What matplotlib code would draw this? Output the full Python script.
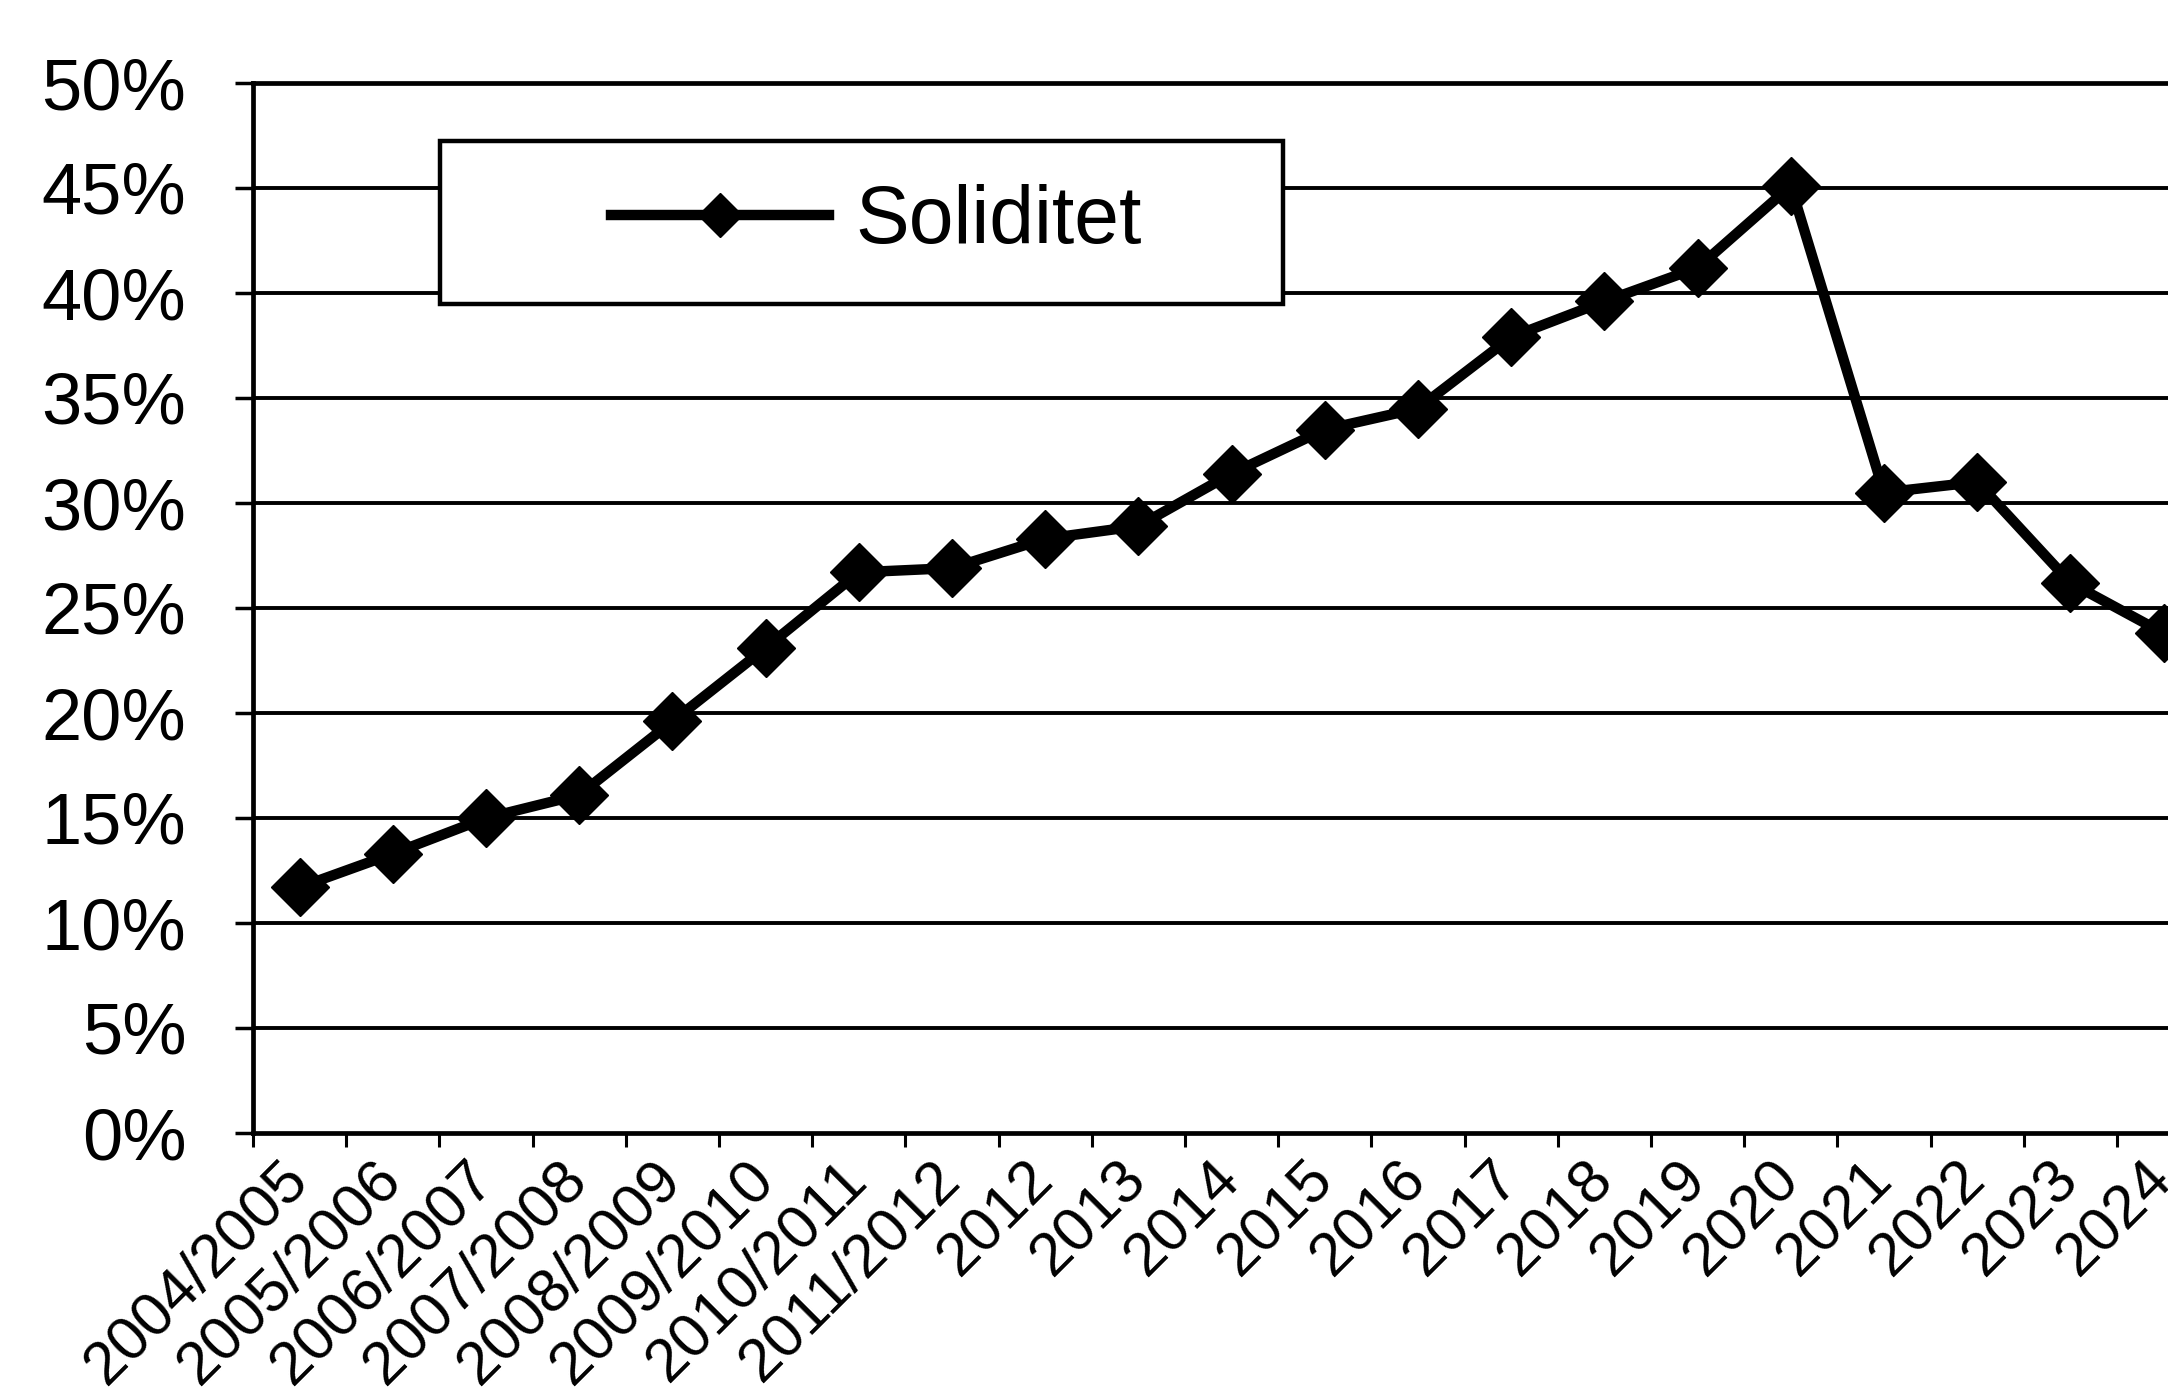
import matplotlib
matplotlib.use("Agg")
import matplotlib.pyplot as plt
from matplotlib.patches import Rectangle
from matplotlib.ticker import FuncFormatter

# ---- data ----
categories = ["2004/2005", "2005/2006", "2006/2007", "2007/2008", "2008/2009",
              "2009/2010", "2010/2011", "2011/2012", "2012", "2013", "2014",
              "2015", "2016", "2017", "2018", "2019", "2020", "2021", "2022",
              "2023", "2024"]
soliditet = [11.7, 13.3, 15.0, 16.1, 19.6, 23.1, 26.7, 26.9, 28.3, 28.9, 31.4,
             33.5, 34.5, 37.9, 39.6, 41.2, 45.1, 30.5, 31.0, 26.2, 23.8]
y_ticks = [0, 5, 10, 15, 20, 25, 30, 35, 40, 45, 50]
series_name = "Soliditet"

plt.rcParams['font.family'] = ['Liberation Sans', 'DejaVu Sans']

W, H = 2168, 1395
fig = plt.figure(figsize=(W / 100, H / 100), dpi=100)
fig.patch.set_facecolor("white")

left_px, bottom_px, top_px = 253, 1133, 83
cat_w = 93.2
right_px = left_px + cat_w * len(categories)
ax = fig.add_axes([left_px / W, (H - bottom_px) / H,
                   (right_px - left_px) / W, (bottom_px - top_px) / H])
ax.set_facecolor("white")

x = list(range(len(categories)))
ax.plot(x, soliditet, color="black", lw=7.5, marker="D", markersize=30,
        markerfacecolor="black", markeredgecolor="black", zorder=4,
        label=series_name, clip_on=False)

ax.set_xlim(-0.5, len(categories) - 0.5)
ax.set_ylim(0, 50)

# grid lines
for yv in y_ticks[1:-1]:
    ax.axhline(yv, color="black", lw=2.8, zorder=1)

for s in ["left", "bottom", "top"]:
    ax.spines[s].set_linewidth(3.4)
    ax.spines[s].set_color("black")
ax.spines["right"].set_visible(False)

ax.set_yticks(y_ticks)
ax.yaxis.set_major_formatter(FuncFormatter(lambda v, p: f"{int(v)}%"))
ax.tick_params(axis="y", which="major", length=13, width=2.5, pad=35,
               labelsize=52, direction="out")

ax.set_xticks(x)
ax.set_xticklabels(categories, rotation=45, ha="right", va="center",
                   rotation_mode="anchor")
ax.set_xticks([i - 0.5 for i in range(len(categories) + 1)], minor=True)
ax.tick_params(axis="x", which="major", length=0, pad=27, labelsize=44)
ax.tick_params(axis="x", which="minor", length=10, width=2.2, direction="out")

# legend box
lx0, lx1, ly0, ly1 = 440, 1283, 141, 304
rect = Rectangle((lx0 / W, (H - ly1) / H), (lx1 - lx0) / W, (ly1 - ly0) / H,
                 transform=fig.transFigure, facecolor="white", edgecolor="black",
                 lw=3.2, zorder=5, clip_on=False)
ax.add_patch(rect)
leg = ax.legend(loc="center", bbox_to_anchor=((lx0 + lx1) / 2 / W + 0.007,
                                               (H - (ly0 + ly1) / 2) / H),
                bbox_transform=fig.transFigure, frameon=False, fontsize=58,
                handlelength=2.7, handletextpad=0.33, markerscale=0.75)
leg.set_zorder(6)

fig.savefig("out.png", dpi=100, facecolor="white")
